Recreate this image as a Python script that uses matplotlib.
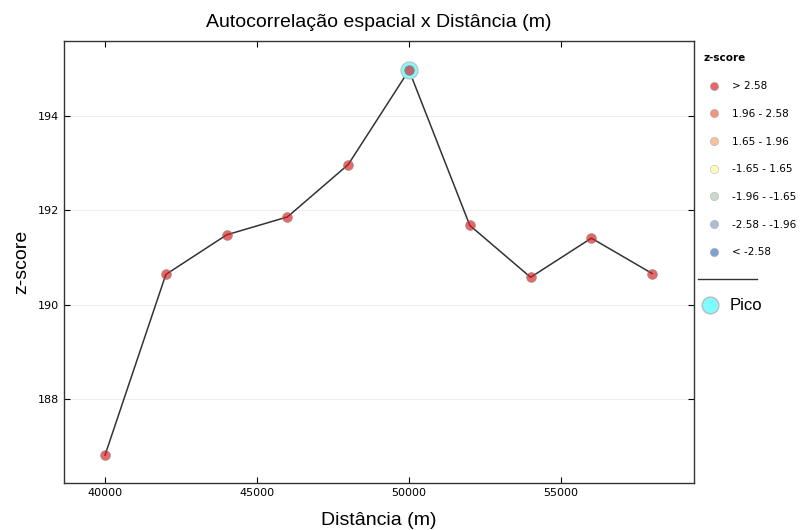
import matplotlib
matplotlib.use("Agg")
from matplotlib import pyplot as plt
from matplotlib.lines import Line2D

# Data
distancias = [40000, 42000, 44000, 46000, 48000, 50000, 52000, 54000, 56000, 58000]
zscores = [186.81, 190.64, 191.48, 191.86, 192.97, 194.97, 191.68, 190.58, 191.41, 190.66]
pico_x = [50000]
pico_y = [194.97]

classes = ["> 2.58", "1.96 - 2.58", "1.65 - 1.96", "-1.65 - 1.65",
           "-1.96 - -1.65", "-2.58 - -1.96", "< -2.58"]
class_colors = ["#d7191c", "#e4603f", "#f0a06a", "#fcfc9c",
                "#b2c4b2", "#7f9cc0", "#3a6fb8"]

fig = plt.figure(figsize=(8, 5.3), dpi=100)
ax = fig.add_axes([0.08, 0.0887, 0.7875, 0.834])

ax.plot(distancias, zscores, color="black", lw=1.1, alpha=0.8, zorder=2)
ax.scatter(pico_x, pico_y, s=150, color="#7ffcff", edgecolor="#bbbbbb",
           linewidth=0.8, zorder=3)
ax.scatter(distancias, zscores, s=50, color="#d7191c", alpha=0.65,
           edgecolor="#888888", linewidth=0.6, zorder=4)

ax.set_xlim(38650, 59375)
ax.set_ylim(186.22, 195.59)
ax.set_xticks([40000, 45000, 50000, 55000])
ax.set_yticks([188, 190, 192, 194])
ax.tick_params(direction="in", top=True, right=True, labelsize=8,
               length=4, width=0.8)
ax.yaxis.grid(True, color="#eeeeee", lw=0.8)
ax.set_axisbelow(True)
for s in ax.spines.values():
    s.set_linewidth(1.0)
    s.set_color("#333333")

ax.set_title("Autocorrelação espacial x Distância (m)", fontsize=14,
             family="Liberation Sans", pad=10)
ax.set_xlabel("Distância (m)", fontsize=14, family="Liberation Sans", labelpad=10)
ax.set_ylabel("z-score", fontsize=14, family="Liberation Sans")
ax.yaxis.set_label_coords(-0.054, 0.5)

# legend of classes
handles = [Line2D([], [], marker="o", ls="", color=c, alpha=0.65,
                  markeredgecolor="#aaaaaa", markeredgewidth=0.5, markersize=6)
           for c in class_colors]
leg = fig.legend(handles, classes, loc="upper left", bbox_to_anchor=(0.876, 0.905),
                 frameon=False, fontsize=7.5, title="z-score", labelspacing=1.7,
                 handletextpad=0.7, borderaxespad=0.0, borderpad=0.3)
leg.get_title().set_fontweight("bold")
leg.get_title().set_fontsize(7.5)
leg._legend_box.align = "left"

# separator line
fig.add_artist(Line2D([0.8725, 0.946], [1 - 279 / 530, 1 - 279 / 530],
                      color="#333333", lw=1.0))

pico = Line2D([], [], marker="o", ls="", color="#7ffcff",
              markeredgecolor="#bbbbbb", markersize=12)
leg2 = fig.legend([pico], ["Pico"], loc="center left",
                  bbox_to_anchor=(0.862, 1 - 306 / 530),
                  frameon=False, prop={"family": "Liberation Sans", "size": 12},
                  handletextpad=0.2, borderaxespad=0.0, borderpad=0.2)

fig.savefig("out.png", dpi=100)
